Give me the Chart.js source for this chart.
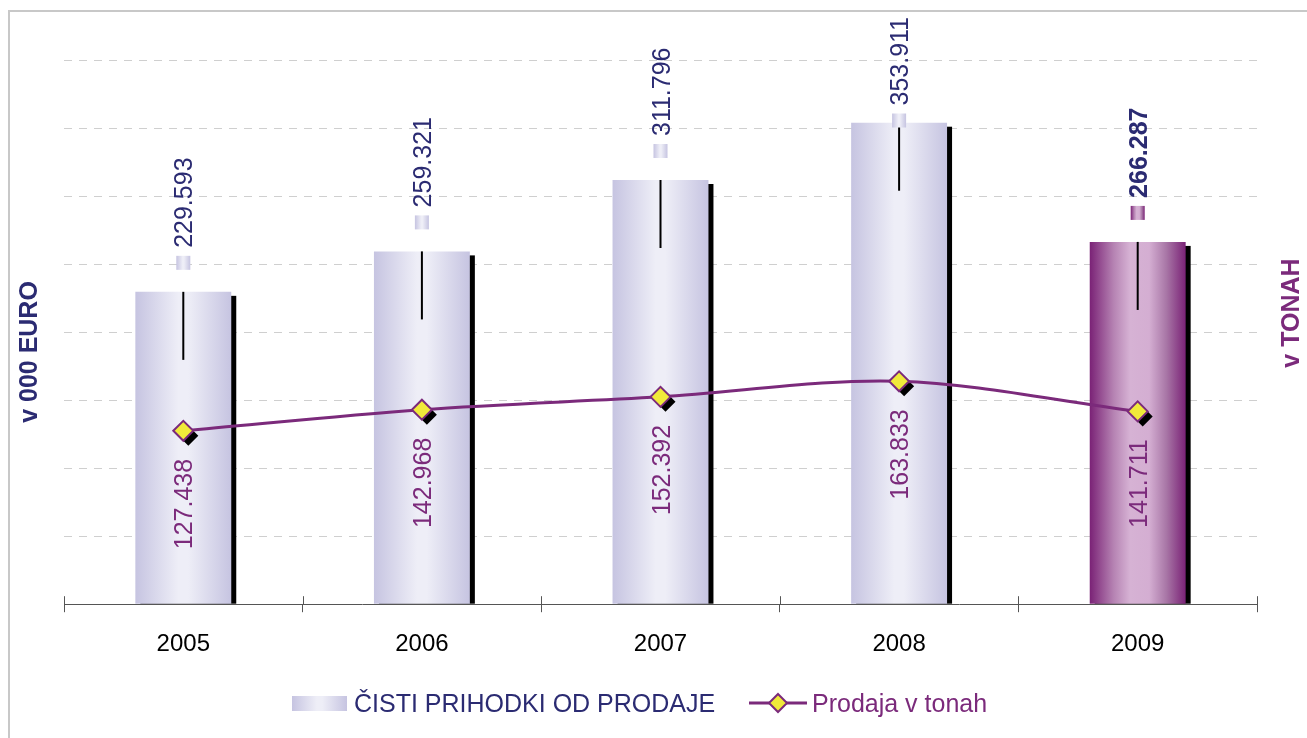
<!DOCTYPE html>
<html>
<head>
<meta charset="utf-8">
<script src="https://cdn.jsdelivr.net/npm/chart.js@4.4.1/dist/chart.umd.min.js"></script>
<style>
  body { margin: 0; background: #fff; font-family: "Liberation Sans", Arial, sans-serif; }
  #wrap { position: relative; width: 1307px; height: 738px; overflow: hidden; }
  #frame { position: absolute; left: 8px; top: 10px; width: 1400px; height: 800px;
           border-left: 2px solid #c8c8c8; border-top: 2px solid #c8c8c8; }
  canvas { position: absolute; left: 0; top: 0; }
  .lg { position: absolute; top: 688px; height: 30px; display: flex; align-items: center; font-size: 25px; white-space: nowrap; }
  .box { width: 55px; height: 15px; margin-right: 7px;
         background: linear-gradient(to right, #c6c4e1 0%, #eeeef7 45%, #eeeef7 55%, #c6c4e1 100%); }
</style>
</head>
<body>
<div id="wrap">
  <div id="frame"></div>
  <canvas id="chart" width="1307" height="738"></canvas>
  <div class="lg" style="left:292px;color:#2b2b72"><div class="box"></div>ČISTI PRIHODKI OD PRODAJE</div>
  <div class="lg" style="left:749px;color:#7b2a7b">
    <svg width="58" height="24" style="margin-right:5px">
      <line x1="0" y1="12" x2="58" y2="12" stroke="#7b2a7b" stroke-width="3"/>
      <polygon points="29,3 38,12 29,21 20,12" fill="#f0ea3a" stroke="#7b2a7b" stroke-width="2"/>
    </svg>Prodaja v tonah</div>
</div>
<script>
// ---------- data ----------
const years   = ["2005", "2006", "2007", "2008", "2009"];
const revenue = [229593, 259321, 311796, 353911, 266287];   // v 000 EURO (bars)
const tonnes  = [127438, 142968, 152392, 163833, 141711];   // v tonah (line)
const errMinus = [50000, 50000, 50000, 50000, 50000];        // black drop line inside bars
const axisMax = 400000;
const axisStep = 50000;
const highlight = 4;  // 2009 drawn purple

const NAVY = "#2b2b72";
const PURPLE = "#7b2a7b";
const BAR_FRAC = 0.402;

function fmt(v) {
  return String(v).replace(/\B(?=(\d{3})+(?!\d))/g, ".");
}

function barGradient(c, x0, x1, purple) {
  const g = c.createLinearGradient(x0, 0, x1, 0);
  if (purple) {
    g.addColorStop(0, "#7a2276");
    g.addColorStop(0.25, "#b683b3");
    g.addColorStop(0.42, "#d6b2d4");
    g.addColorStop(0.62, "#d4aed2");
    g.addColorStop(0.8, "#a876a6");
    g.addColorStop(1, "#7a2276");
  } else {
    g.addColorStop(0, "#c6c4e1");
    g.addColorStop(0.45, "#eeeef7");
    g.addColorStop(0.55, "#eeeef7");
    g.addColorStop(1, "#c6c4e1");
  }
  return g;
}

function barFill(ctx) {
  const chart = ctx.chart;
  if (!chart.chartArea || ctx.dataIndex === undefined) return "#d8d6ec";
  const xs = chart.scales.x;
  const cx = xs.getPixelForValue(ctx.dataIndex);
  const w = xs.width / years.length * BAR_FRAC;
  return barGradient(chart.ctx, cx - w / 2, cx + w / 2, ctx.dataIndex === highlight);
}

// ---------- decorations ----------
const decor = {
  id: "decor",
  beforeDatasetDraw(chart, args) {
    const c = chart.ctx;
    const meta = chart.getDatasetMeta(args.index);
    if (meta.type === "bar") {
      // black shadow at the right of each bar
      c.save();
      c.fillStyle = "#000";
      meta.data.forEach(b => {
        c.fillRect(b.x - b.width / 2 + 5, b.y + 4, b.width, b.base - b.y - 4);
      });
      c.restore();
    } else {
      // shadow under markers
      c.save();
      c.fillStyle = "#000";
      meta.data.forEach(p => {
        const r = 10, x = p.x + 5, y = p.y + 5;
        c.beginPath();
        c.moveTo(x, y - r); c.lineTo(x + r, y); c.lineTo(x, y + r); c.lineTo(x - r, y);
        c.closePath(); c.fill();
      });
      c.restore();
    }
  },
  afterDatasetDraw(chart, args) {
    const meta = chart.getDatasetMeta(args.index);
    if (meta.type !== "bar") return;
    const c = chart.ctx, ys = chart.scales.y;
    c.save();
    c.strokeStyle = "#000";
    c.lineWidth = 2;
    meta.data.forEach((b, i) => {
      c.beginPath();
      c.moveTo(b.x, ys.getPixelForValue(revenue[i]));
      c.lineTo(b.x, ys.getPixelForValue(revenue[i] - errMinus[i]));
      c.stroke();
    });
    c.restore();
  },
  afterDatasetsDraw(chart) {
    const c = chart.ctx;
    const bars = chart.getDatasetMeta(1).data;
    const pts = chart.getDatasetMeta(0).data;
    const fs = 25;
    c.save();
    // bar value labels with small key square
    bars.forEach((b, i) => {
      const bold = i === highlight;
      c.font = (bold ? "bold " : "") + fs + "px 'Liberation Sans', Arial, sans-serif";
      const txt = fmt(revenue[i]);
      const tw = c.measureText(txt).width;
      let sqBottom = b.y - 22;
      let textBottom = sqBottom - 14 - 8;
      const textTop = textBottom - tw;
      if (textTop < 17) { const d = 17 - textTop; sqBottom += d; textBottom += d; }
      c.fillStyle = barGradient(c, b.x - 7, b.x + 7, bold);
      c.fillRect(b.x - 7, sqBottom - 14, 14, 14);
      c.save();
      c.translate(b.x, textBottom);
      c.rotate(-Math.PI / 2);
      c.fillStyle = NAVY;
      c.textAlign = "left";
      c.textBaseline = "alphabetic";
      c.fillText(txt, 0, fs * 0.36);
      c.restore();
    });
    // line value labels
    c.font = fs + "px 'Liberation Sans', Arial, sans-serif";
    pts.forEach((p, i) => {
      c.save();
      c.translate(p.x, p.y + 28);
      c.rotate(-Math.PI / 2);
      c.fillStyle = PURPLE;
      c.textAlign = "right";
      c.textBaseline = "alphabetic";
      c.fillText(fmt(tonnes[i]), 0, fs * 0.36);
      c.restore();
    });
    c.restore();
  },
  afterDraw(chart) {
    const c = chart.ctx, xs = chart.scales.x, a = chart.chartArea;
    c.save();
    // upper half of the crossing ticks on the category axis
    c.strokeStyle = "#555";
    c.lineWidth = 1;
    for (let i = 0; i <= years.length; i++) {
      const x = Math.round(xs.left + i * xs.width / years.length) + 0.5;
      c.beginPath(); c.moveTo(x, a.bottom - 8); c.lineTo(x, a.bottom); c.stroke();
    }
    // axis titles
    c.font = "bold 25px 'Liberation Sans', Arial, sans-serif";
    c.textAlign = "center";
    c.textBaseline = "middle";
    c.save();
    c.translate(30, 352); c.rotate(-Math.PI / 2);
    c.fillStyle = NAVY; c.fillText("v 000 EURO", 0, 0);
    c.restore();
    c.save();
    c.translate(1292, 313); c.rotate(-Math.PI / 2);
    c.fillStyle = PURPLE; c.fillText("v TONAH", 0, 0);
    c.restore();
    c.restore();
  }
};

Chart.defaults.font.family = "'Liberation Sans', Arial, sans-serif";
Chart.defaults.font.size = 24;

new Chart(document.getElementById("chart"), {
  data: {
    labels: years,
    datasets: [
      {
        type: "line",
        label: "Prodaja v tonah",
        data: tonnes,
        yAxisID: "y1",
        order: 1,
        borderColor: PURPLE,
        borderWidth: 3,
        tension: 0.33,
        pointStyle: "rectRot",
        pointRadius: 10,
        pointHoverRadius: 10,
        pointBackgroundColor: "#f0ea3a",
        pointBorderColor: PURPLE,
        pointBorderWidth: 2
      },
      {
        type: "bar",
        label: "ČISTI PRIHODKI OD PRODAJE",
        data: revenue,
        yAxisID: "y",
        order: 2,
        backgroundColor: barFill,
        borderWidth: 0,
        barPercentage: BAR_FRAC,
        categoryPercentage: 1
      }
    ]
  },
  options: {
    responsive: false,
    animation: false,
    devicePixelRatio: 1,
    layout: { padding: { left: 64, right: 50, top: 60, bottom: 61 } },
    plugins: { legend: { display: false }, tooltip: { enabled: false } },
    scales: {
      x: {
        grid: { drawOnChartArea: false, tickLength: 8, color: "#555", lineWidth: 1, offset: true },
        border: { color: "#555", width: 1 },
        ticks: { color: "#000", padding: 18, font: { size: 24 } }
      },
      y: {
        min: 0, max: axisMax,
        ticks: { display: false, stepSize: axisStep },
        grid: { color: "#cfcfcf", lineWidth: 1, drawTicks: false },
        border: { display: false, dash: [8, 7] }
      },
      y1: {
        position: "right", display: false,
        min: 0, max: axisMax,
        grid: { drawOnChartArea: false }
      }
    }
  },
  plugins: [decor]
});
</script>
</body>
</html>
